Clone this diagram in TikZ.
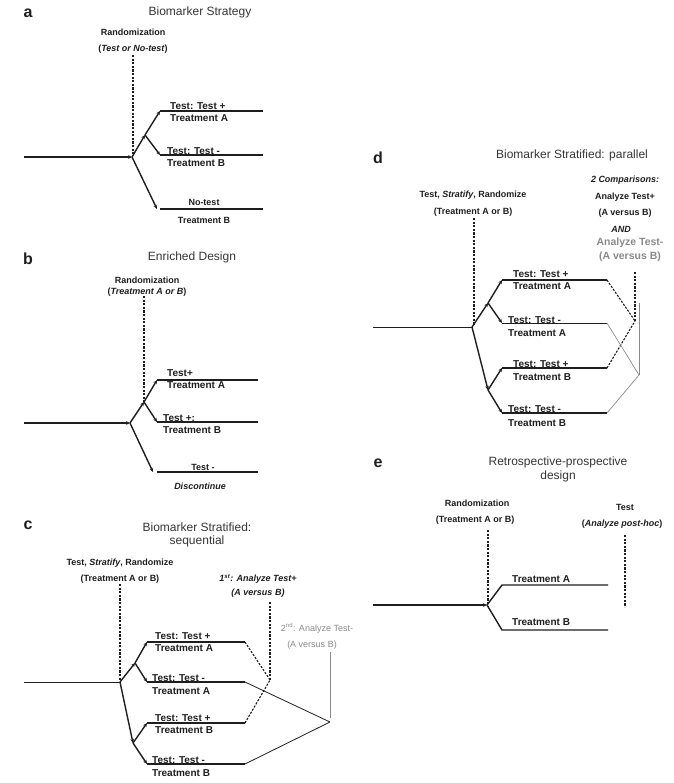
\documentclass[tikz,border=0pt]{standalone}
\usepackage{fontspec}
\setmainfont{Liberation Sans}
\usetikzlibrary{arrows.meta}
\definecolor{ink}{HTML}{1E1E1E}
\definecolor{gry}{HTML}{8A8A8A}
\begin{document}
\begin{tikzpicture}[x=1pt,y=-1pt,
  txt/.style={inner sep=0pt, text=ink, font=\bfseries\fontsize{9}{10}\selectfont},
  big/.style={inner sep=0pt, text=ink, font=\bfseries\fontsize{10}{11}\selectfont},
  gtxt/.style={inner sep=0pt, text=gry, font=\fontsize{9}{10}\selectfont},
  gbig/.style={inner sep=0pt, text=gry, font=\bfseries\fontsize{10.5}{11}\selectfont},
  ttl/.style={inner sep=0pt, text=ink!90, font=\fontsize{12}{13}\selectfont},
  pnl/.style={inner sep=0pt, text=ink, font=\bfseries\fontsize{16}{17}\selectfont},
  lw/.style={big, anchor=west},
  trunk/.style={draw=ink, line width=1.1pt, -{Stealth[length=4pt,width=3.6pt]}},
  arm/.style={draw=ink, line width=1.4pt, -{Stealth[length=4pt,width=3.6pt]}},
  plainarm/.style={draw=ink, line width=1.4pt},
  bar/.style={draw=ink, line width=1.2pt},
  thinbar/.style={draw=ink, line width=0.9pt},
  dsh/.style={draw=ink, line width=1.1pt, dash pattern=on 2.2pt off 1.4pt},
  thinln/.style={draw=ink, line width=0.8pt},
  gln/.style={draw=gry, line width=0.7pt}
]
\useasboundingbox (0,0) rectangle (673,783);

% ---------------- panel a ----------------
\node[pnl] (la) at (28,13) {a};
\node[ttl] (ta) at (200,12) {Biomarker Strategy};
\node[txt] (ra1) at (133,32) {Randomization};
\node[txt] (ra2) at (133,49) {(\textit{Test or No-test})};
\coordinate (ad0) at (133,55);
\coordinate (ad1) at (133,155);
\coordinate (a0) at (24,157);
\coordinate (aj) at (132,157);
\coordinate (ak) at (145,135);
\coordinate (a1) at (160,111);
\coordinate (a1e) at (263,111);
\coordinate (a2) at (160,155);
\coordinate (a2e) at (263,155);
\coordinate (a3) at (157,209);
\coordinate (a3s) at (160,209);
\coordinate (a3e) at (263,209);
\draw[dsh] (ad0) -- (ad1);
\draw[trunk] (a0) -- (aj);
\draw[arm] (aj) -- (ak);
\draw[arm] (ak) -- (a1);
\draw[arm] (ak) -- (a2);
\draw[arm] (aj) -- (a3);
\draw[bar] (a1) -- (a1e);
\draw[bar] (a2) -- (a2e);
\draw[bar] (a3s) -- (a3e);
\node[lw] (at1) at (170,106) {Test: Test +};
\node[lw] (at2) at (170,118) {Treatment A};
\node[lw] (at3) at (167,151) {Test: Test -};
\node[lw] (at4) at (167,163) {Treatment B};
\node[txt] (at5) at (204,202) {No-test};
\node[txt] (at6) at (204,220) {Treatment B};

% ---------------- panel b ----------------
\node[pnl] (lb) at (28,259) {b};
\node[ttl] (tb) at (192,257) {Enriched Design};
\node[txt] (rb1) at (147,280) {Randomization};
\node[txt] (rb2) at (147,292) {(\textit{Treatment A or B})};
\coordinate (bd0) at (144,296);
\coordinate (bd1) at (144,402);
\coordinate (b0) at (24,423);
\coordinate (bj) at (130,423);
\coordinate (bk) at (144,402);
\coordinate (b1) at (157,380);
\coordinate (b1e) at (258,380);
\coordinate (b2) at (157,422);
\coordinate (b2e) at (258,422);
\coordinate (b3) at (153,472);
\coordinate (b3s) at (157,472);
\coordinate (b3e) at (258,472);
\draw[dsh] (bd0) -- (bd1);
\draw[trunk] (b0) -- (bj);
\draw[arm] (bj) -- (bk);
\draw[arm] (bk) -- (b1);
\draw[arm] (bk) -- (b2);
\draw[arm] (bj) -- (b3);
\draw[bar] (b1) -- (b1e);
\draw[bar] (b2) -- (b2e);
\draw[bar] (b3s) -- (b3e);
\node[lw] (bt1) at (167,373) {Test+};
\node[lw] (bt2) at (167,385) {Treatment A};
\node[lw] (bt3) at (163,418) {Test +:};
\node[lw] (bt4) at (163,430) {Treatment B};
\node[txt] (bt5) at (203,467) {Test -};
\node[txt] (bt6) at (200,486) {\textit{Discontinue}};

% ---------------- panel c ----------------
\node[pnl] (lc) at (28,525) {c};
\node[ttl] (tc1) at (197,527) {Biomarker Stratified:};
\node[ttl] (tc2) at (197,541) {sequential};
\node[txt] (rc1) at (120,563) {Test, \textit{Stratify}, Randomize};
\node[txt] (rc2) at (120,579) {(Treatment A or B)};
\node[txt] (ac1) at (258,579) {\textit{1\textsuperscript{st}: Analyze Test+}};
\node[txt] (ac2) at (258,593) {\textit{(A versus B)}};
\node[gtxt] (gc1) at (317,628) {2\textsuperscript{nd}: Analyze Test-};
\node[gtxt] (gc2) at (312,645) {(A versus B)};
\coordinate (cd0) at (120,584);
\coordinate (cd1) at (120,680);
\coordinate (ce0) at (270,602);
\coordinate (ce1) at (270,680);
\coordinate (cg0) at (330,652);
\coordinate (cg1) at (330,718);
\coordinate (c0) at (24,682);
\coordinate (cj) at (120,682);
\coordinate (ck) at (135,663);
\coordinate (cm) at (133,743);
\coordinate (c1) at (147,642);
\coordinate (c1e) at (245,642);
\coordinate (c2) at (147,682);
\coordinate (c2e) at (245,682);
\coordinate (c3) at (147,723);
\coordinate (c3e) at (245,723);
\coordinate (c4) at (147,764);
\coordinate (c4e) at (245,764);
\coordinate (cx) at (330,722);
\draw[dsh] (cd0) -- (cd1);
\draw[dsh] (ce0) -- (ce1);
\draw[gln] (cg0) -- (cg1);
\draw[thinln] (c0) -- (cj);
\draw[arm] (cj) -- (ck);
\draw[arm] (ck) -- (c1);
\draw[arm] (ck) -- (c2);
\draw[arm] (cj) -- (cm);
\draw[arm] (cm) -- (c3);
\draw[arm] (cm) -- (c4);
\draw[bar] (c1) -- (c1e);
\draw[bar] (c2) -- (c2e);
\draw[bar] (c3) -- (c3e);
\draw[bar] (c4) -- (c4e);
\draw[dsh] (c1e) -- (ce1);
\draw[dsh] (c3e) -- (ce1);
\draw[thinln] (c2e) -- (cx);
\draw[thinln] (c4e) -- (cx);
\node[lw] (ct1) at (155,636) {Test: Test +};
\node[lw] (ct2) at (155,648) {Treatment A};
\node[lw] (ct3) at (152,678) {Test: Test -};
\node[lw] (ct4) at (152,691) {Treatment A};
\node[lw] (ct5) at (155,718) {Test: Test +};
\node[lw] (ct6) at (155,730) {Treatment B};
\node[lw] (ct7) at (152,760) {Test: Test -};
\node[lw] (ct8) at (152,773) {Treatment B};

% ---------------- panel d ----------------
\node[pnl] (ld) at (378,158) {d};
\node[ttl] (td) at (572,155) {Biomarker Stratified: parallel};
\node[txt] (dd1) at (625,180) {\textit{2 Comparisons:}};
\node[txt] (dd2) at (625,197) {Analyze Test+};
\node[txt] (dd3) at (625,213) {(A versus B)};
\node[txt] (dd4) at (621,229) {\textit{AND}};
\node[gbig] (dd5) at (630,243) {Analyze Test-};
\node[gbig] (dd6) at (630,257) {(A versus B)};
\node[txt] (rd1) at (473,195) {Test, \textit{Stratify}, Randomize};
\node[txt] (rd2) at (473,212) {(Treatment A or B)};
\coordinate (dd0) at (474,218);
\coordinate (ddd) at (474,325);
\coordinate (de0) at (635,272);
\coordinate (dx) at (635,321);
\coordinate (dg0) at (639,303);
\coordinate (dy) at (639,375);
\coordinate (d0) at (373,327);
\coordinate (dj) at (472,327);
\coordinate (dk) at (488,303);
\coordinate (dm) at (488,390);
\coordinate (d1) at (502,280);
\coordinate (d1e) at (607,280);
\coordinate (d2) at (502,323);
\coordinate (d2e) at (607,323);
\coordinate (d3) at (502,368);
\coordinate (d3e) at (607,368);
\coordinate (d4) at (502,413);
\coordinate (d4e) at (607,413);
\draw[dsh] (dd0) -- (ddd);
\draw[dsh] (de0) -- (dx);
\draw[gln] (dg0) -- (dy);
\draw[thinln] (d0) -- (dj);
\draw[arm] (dj) -- (dk);
\draw[arm] (dk) -- (d1);
\draw[arm] (dk) -- (d2);
\draw[arm] (dj) -- (dm);
\draw[arm] (dm) -- (d3);
\draw[arm] (dm) -- (d4);
\draw[bar] (d1) -- (d1e);
\draw[thinbar] (d2) -- (d2e);
\draw[bar] (d3) -- (d3e);
\draw[bar] (d4) -- (d4e);
\draw[dsh] (d1e) -- (dx);
\draw[dsh] (d3e) -- (dx);
\draw[gln] (d2e) -- (dy);
\draw[gln] (d4e) -- (dy);
\node[lw] (dt1) at (513,274) {Test: Test +};
\node[lw] (dt2) at (513,286) {Treatment A};
\node[lw] (dt3) at (508,320) {Test: Test -};
\node[lw] (dt4) at (508,333) {Treatment A};
\node[lw] (dt5) at (513,364) {Test: Test +};
\node[lw] (dt6) at (513,377) {Treatment B};
\node[lw] (dt7) at (508,409) {Test: Test -};
\node[lw] (dt8) at (508,423) {Treatment B};

% ---------------- panel e ----------------
\node[pnl] (le) at (378,463) {e};
\node[ttl] (te1) at (558,462) {Retrospective-prospective};
\node[ttl] (te2) at (558,476) {design};
\node[txt] (re1) at (477,503) {Randomization};
\node[txt] (re2) at (475,520) {(Treatment A or B)};
\node[txt] (xe1) at (625,507) {Test};
\node[txt] (xe2) at (622,524) {(\textit{Analyze post-hoc})};
\coordinate (ed0) at (488,530);
\coordinate (ed1) at (488,607);
\coordinate (ef0) at (625,535);
\coordinate (ef1) at (625,607);
\coordinate (e0) at (373,605);
\coordinate (ej) at (487,605);
\coordinate (e1) at (502,585);
\coordinate (e1e) at (608,585);
\coordinate (e2) at (502,630);
\coordinate (e2e) at (608,630);
\draw[dsh] (ed0) -- (ed1);
\draw[dsh] (ef0) -- (ef1);
\draw[trunk] (e0) -- (ej);
\draw[plainarm] (ej) -- (e1) -- (e1e);
\draw[plainarm] (ej) -- (e2) -- (e2e);
\node[lw] (et1) at (512,579) {Treatment A};
\node[lw] (et2) at (512,622) {Treatment B};
\end{tikzpicture}
\end{document}
